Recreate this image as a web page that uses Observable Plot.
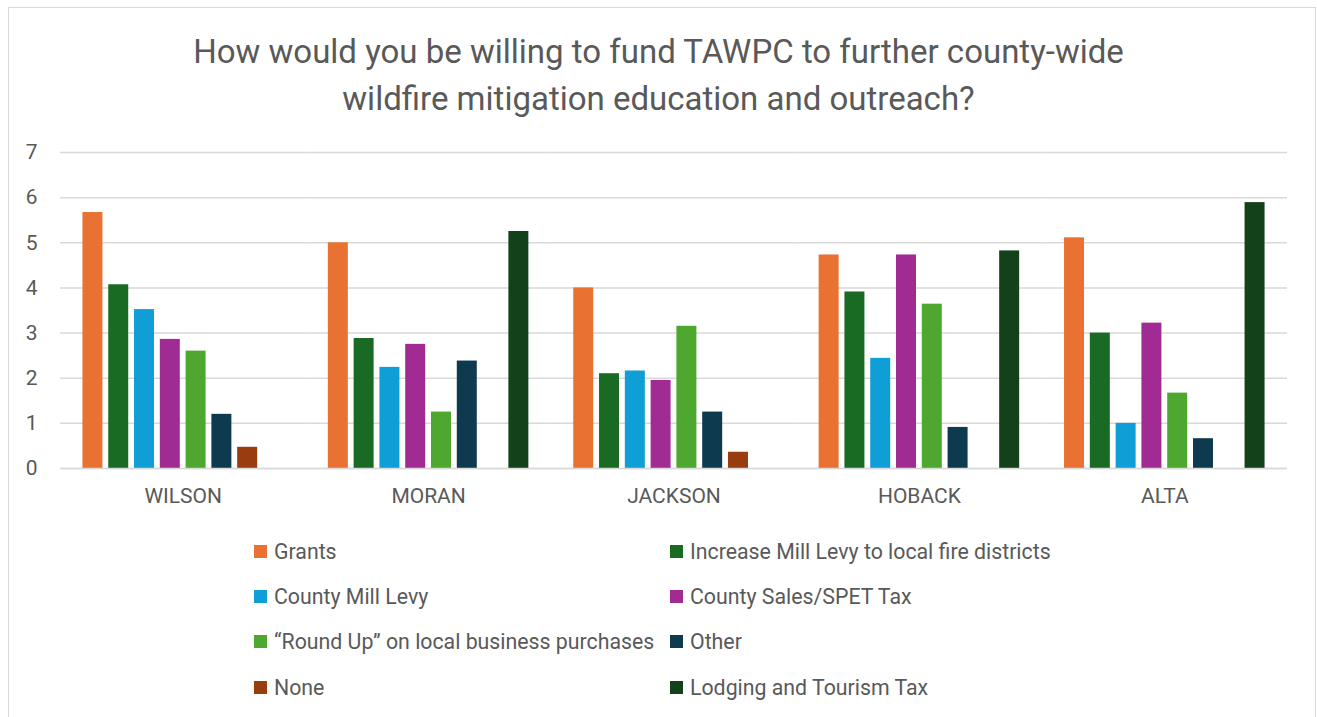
<!DOCTYPE html>
<html>
<head>
<meta charset="utf-8">
<script src="https://cdn.jsdelivr.net/npm/d3@7"></script>
<script src="https://cdn.jsdelivr.net/npm/@observablehq/plot@0.6"></script>
<style>
  html, body { margin: 0; padding: 0; background: #fff; }
  body { width: 1317px; height: 717px; overflow: hidden; position: relative; font-family: Roboto, "Noto Sans", sans-serif; color: #595959; }
  #frame { position: absolute; left: 8px; top: 7px; width: 1308px; height: 730px; border: 1.5px solid #d9d9d9; box-sizing: border-box; }
  #title { position: absolute; left: 0; width: 1317px; top: 28px; text-align: center; font-size: 33px; line-height: 47px; color: #595959; }
  #chart { position: absolute; left: 0; top: 130px; }
  #legend { position: absolute; left: 0; top: 0; width: 1317px; height: 717px; pointer-events: none; }
  .item { position: absolute; display: flex; align-items: center; font-size: 21.3px; color: #595959; white-space: nowrap; height: 30px; }
  .sw { width: 13px; height: 13px; margin-right: 7px; flex: none; }
</style>
</head>
<body>
<div id="frame"></div>
<div id="title">How would you be willing to fund TAWPC to further county-wide<br>wildfire mitigation education and outreach?</div>
<div id="chart"></div>
<div id="legend"></div>
<script>
const districts = ["WILSON", "MORAN", "JACKSON", "HOBACK", "ALTA"];
const series = [
  "Grants",
  "Increase Mill Levy to local fire districts",
  "County Mill Levy",
  "County Sales/SPET Tax",
  "\u201cRound Up\u201d on local business purchases",
  "Other",
  "None",
  "Lodging and Tourism Tax"
];
const colors = ["#E97132", "#196B24", "#0F9ED5", "#A02B93", "#4EA72E", "#0E3A4F", "#973D10", "#12411A"];

// values per series, in district order: WILSON, MORAN, JACKSON, HOBACK, ALTA
const grants          = [5.67, 5.00, 4.00, 4.73, 5.11];
const millLevyFire    = [4.07, 2.88, 2.10, 3.91, 3.00];
const countyMillLevy  = [3.52, 2.24, 2.16, 2.44, 1.00];
const countySalesTax  = [2.86, 2.75, 1.95, 4.73, 3.22];
const roundUp         = [2.60, 1.25, 3.15, 3.64, 1.67];
const other           = [1.20, 2.38, 1.25, 0.91, 0.66];
const none            = [0.47, 0, 0.36, 0, 0];
const lodgingTax      = [0, 5.25, 0, 4.82, 5.89];
const yTicks = [0, 1, 2, 3, 4, 5, 6, 7];

const seriesValues = [grants, millLevyFire, countyMillLevy, countySalesTax, roundUp, other, none, lodgingTax];
const table = [];
series.forEach((s, i) => districts.forEach((d, j) => table.push({district: d, series: s, value: seriesValues[i][j]})));

const plot = Plot.plot({
  width: 1317,
  height: 383,
  marginLeft: 60,
  marginRight: 30,
  marginTop: 22,
  marginBottom: 45,
  style: {fontFamily: "Roboto, 'Noto Sans', sans-serif", fontSize: "21px", color: "#595959", background: "transparent"},
  fx: {domain: districts, padding: 0, round: false, label: null, axis: "bottom", tickSize: 0, tickPadding: 20, fontSize: 21},
  x: {domain: series, paddingInner: 0.225, paddingOuter: 0.87, round: false, axis: null},
  y: {domain: [0, 7], ticks: yTicks, tickFormat: "d", tickSize: 0, tickPadding: 23, label: null},
  color: {domain: series, range: colors},
  marks: [
    Plot.gridY(yTicks, {stroke: "#d9d9d9", strokeOpacity: 1, strokeWidth: 1.5}),
    Plot.barY(table, {fx: "district", x: "series", y: "value", fill: "series"}),
    Plot.ruleY([0], {stroke: "#d9d9d9", strokeWidth: 1.5})
  ]
});
document.getElementById("chart").appendChild(plot);

// legend: two columns, four rows
const legend = document.getElementById("legend");
const colX = [254, 670];
const rowY = [551, 596, 641, 687];
series.forEach((s, i) => {
  const el = document.createElement("div");
  el.className = "item";
  el.style.left = colX[i % 2] + "px";
  el.style.top = (rowY[Math.floor(i / 2)] - 15) + "px";
  const sw = document.createElement("span");
  sw.className = "sw";
  sw.style.background = colors[i];
  el.appendChild(sw);
  el.appendChild(document.createTextNode(s));
  legend.appendChild(el);
});
</script>
</body>
</html>
